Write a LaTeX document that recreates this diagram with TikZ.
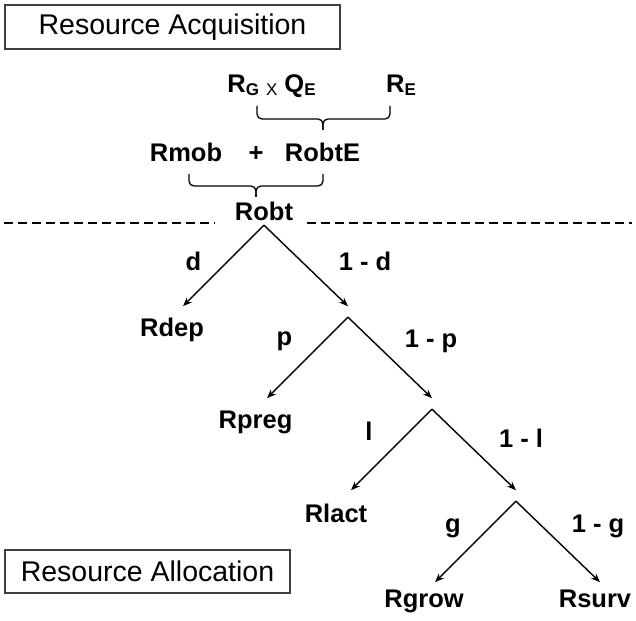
\documentclass[tikz,border=0pt]{standalone}
\usepackage{fontspec}
\setmainfont{Liberation Sans}
\usetikzlibrary{positioning,arrows.meta}

\newcommand{\lowidx}[1]{\raisebox{-3pt}{\fontsize{17}{17}\selectfont #1}}

\begin{document}
\begin{tikzpicture}[x=1pt,y=-1pt,node distance=1.0cm,on grid,
		>={Stealth[length=9pt,width=7pt]},
		term/.style={font=\bfseries\fontsize{25.5}{26}\selectfont, inner sep=0pt, text height=18pt, text depth=5pt},
		weight/.style={term},
		stage/.style={rectangle, draw=black!75, line width=1.2pt, inner sep=0pt, font=\fontsize{28.5}{29}\selectfont},
		bracket/.style={line width=1.3pt, rounded corners=5pt},
		cut/.style={line width=1.4pt, dash pattern=on 9pt off 5pt},
		branch/.style={->, line width=1.4pt}
	]
	\useasboundingbox (0,0) rectangle (636,620);

	\node[stage, minimum width=335pt, minimum height=44pt] (acq) at (172.5,27) {Resource Acquisition};
	\node[stage, minimum width=285pt, minimum height=43pt] (alloc) at (147.5,571.5) {Resource Allocation};

	% acquisition terms
	\node[term, anchor=base] (r_gqe) at (271.5,93) {R\lowidx{G} \lowidx{\mdseries X} Q\lowidx{E}};
	\node[term, anchor=base] (r_e) at (401,93) {R\lowidx{E}};
	\node[term, anchor=base] (rmob) at (186,162) {Rmob};
	\node[term, anchor=base] (plus) at (256,162) {+};
	\node[term, anchor=base] (robte) at (322.5,162) {RobtE};
	\node[term, anchor=base] (robt) at (264,220) {Robt};

	\coordinate (b_1w) at (257,106);
	\coordinate (b_1e) at (390,106);
	\coordinate (b_1m) at (323,119);
	\coordinate (b_2w) at (189,174);
	\coordinate (b_2e) at (323,174);
	\coordinate (b_2m) at (256,186);

	\draw[bracket] (b_1w) |- (b_1m) -- ++(0,11);
	\draw[bracket] (b_1e) |- (b_1m) -- ++(0,11);
	\draw[bracket] (b_2w) |- (b_2m) -- ++(0,11);
	\draw[bracket] (b_2e) |- (b_2m) -- ++(0,11);

	\coordinate (cut_w) at (4,223);
	\coordinate (cut_e) at (632,223);
	\draw[cut] (cut_w) -- ([xshift=-20pt]robt.west |- cut_w);
	\draw[cut] ([xshift=14pt]robt.east |- cut_e) -- (cut_e);

	% allocation tree
	\coordinate[below left=81pt and 81pt of robt.south] (l_1);
	\coordinate[below right=81pt and 84pt of robt.south] (r_1);
	\coordinate[below=11pt of r_1] (s_2);
	\coordinate[below left=81pt and 81pt of s_2] (l_2);
	\coordinate[below right=81pt and 84pt of s_2] (r_2);
	\coordinate[below=11pt of r_2] (s_3);
	\coordinate[below left=81pt and 81pt of s_3] (l_3);
	\coordinate[below right=81pt and 84pt of s_3] (r_3);
	\coordinate[below=11pt of r_3] (s_4);
	\coordinate[below left=81pt and 81pt of s_4] (l_4);
	\coordinate[below right=81pt and 84pt of s_4] (r_4);

	\node[term] (rdep) [below left=23.5pt and 11pt of l_1, anchor=center] {Rdep};
	\node[term] (rpreg) [below left=23.5pt and 11.5pt of l_2, anchor=center] {Rpreg};
	\node[term] (rlact) [below left=25.5pt and 15pt of l_3, anchor=center] {Rlact};
	\node[term] (rgrow) [below left=18.5pt and 11pt of l_4, anchor=center] {Rgrow};
	\node[term] (rsurv) [below left=18.5pt and 5pt of r_4, anchor=center] {Rsurv};

	\draw[branch] (robt.south) -- (l_1) node[weight, midway, xshift=-30pt, yshift=2pt] (w_d) {d};
	\draw[branch] (robt.south) -- (r_1) node[weight, midway, xshift=59pt, yshift=2pt] (w_nd) {1 - d};
	\draw[branch] (s_2) -- (l_2) node[weight, midway, xshift=-23pt, yshift=19pt] (w_p) {p};
	\draw[branch] (s_2) -- (r_2) node[weight, midway, xshift=41pt, yshift=17pt] (w_np) {1 - p};
	\draw[branch] (s_3) -- (l_3) node[weight, midway, xshift=-22.5pt, yshift=16pt] (w_l) {l};
	\draw[branch] (s_3) -- (r_3) node[weight, midway, xshift=47pt, yshift=9pt] (w_nl) {1 - l};
	\draw[branch] (s_4) -- (l_4) node[weight, midway, xshift=-22.5pt, yshift=16pt] (w_g) {g};
	\draw[branch] (s_4) -- (r_4) node[weight, midway, xshift=40pt, yshift=16pt] (w_ng) {1 - g};
\end{tikzpicture}
\end{document}
